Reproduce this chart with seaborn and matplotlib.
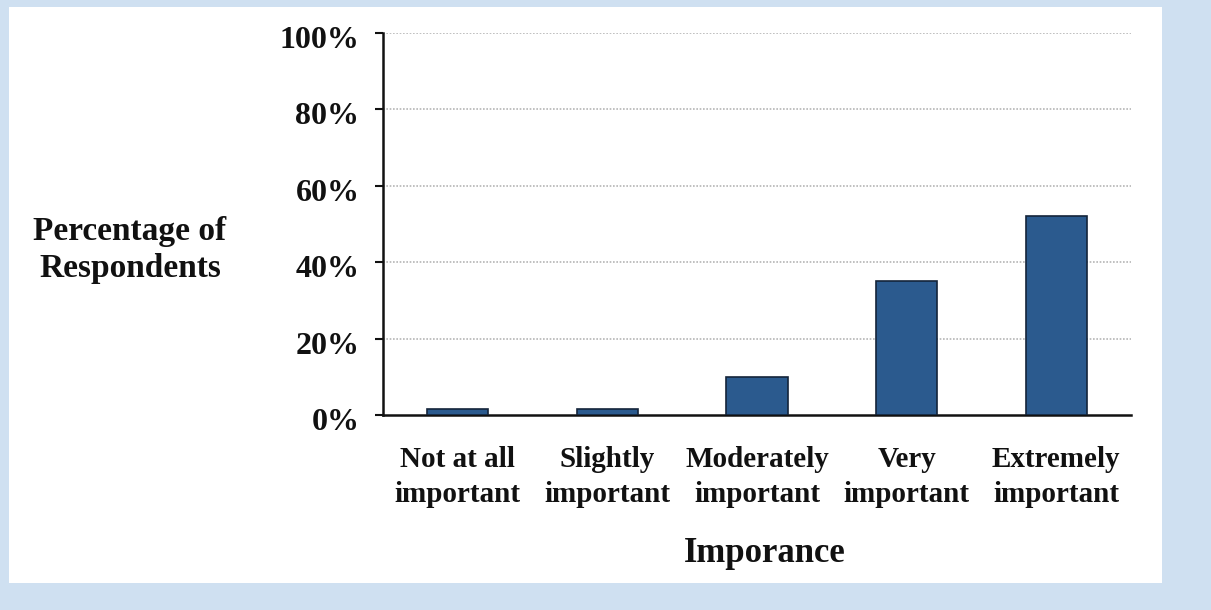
import matplotlib
matplotlib.use("Agg")
import matplotlib.pyplot as plt
import seaborn as sns
import pandas as pd
from matplotlib.patches import Rectangle
from matplotlib.ticker import FuncFormatter
import matplotlib.transforms as mtransforms

categories = ["Not at all\nimportant", "Slightly\nimportant", "Moderately\nimportant",
              "Very\nimportant", "Extremely\nimportant"]
percentages = [1.5, 1.5, 10, 35, 52]
y_ticks = [0, 20, 40, 60, 80, 100]

df = pd.DataFrame({"Importance": categories, "Percent": percentages})

sns.set_theme(style="white")
plt.rcParams["font.family"] = ["Liberation Serif", "DejaVu Serif"]
plt.rcParams["font.weight"] = "bold"
plt.rcParams["text.color"] = "#111111"
plt.rcParams["xtick.color"] = "#111111"
plt.rcParams["ytick.color"] = "#111111"

fig = plt.figure(figsize=(12.11, 6.10), dpi=100)
fig.patch.set_facecolor("#cfe0f1")
fig.patches.append(Rectangle((9 / 1211, 1 - 583 / 610), 1153 / 1211, 576 / 610,
                             transform=fig.transFigure, facecolor="white",
                             edgecolor="none", zorder=-5))

ax = fig.add_axes([383 / 1211, 1 - 415 / 610, 748 / 1211, 382 / 610])
ax.set_zorder(2)
ax.set_facecolor("none")

sns.barplot(data=df, x="Importance", y="Percent", ax=ax, color="#2b5a8e",
            width=0.41, edgecolor="#14243a", linewidth=1.2, saturation=1, zorder=3)

ax.set_ylim(0, 100)
ax.set_xlim(-0.5, len(categories) - 0.5)
ax.set_yticks(y_ticks)
ax.yaxis.set_major_formatter(FuncFormatter(lambda v, p: f"{v:.0f}%"))
for v in y_ticks[1:]:
    ax.axhline(v, color="#b5b5b5", linestyle=(0, (1, 1)), linewidth=1.2, zorder=1)

# ticks at category boundaries, labels at centres
ax.set_xticks([i - 0.5 for i in range(len(categories) + 1)])
ax.set_xticklabels([])
ax.set_xticks(range(len(categories)), minor=True)
ax.set_xticklabels(categories, minor=True, fontsize=21, fontweight="bold", linespacing=1.4)
ax.tick_params(axis="x", which="major", length=8, width=1.5, color="#111111", direction="out")
ax.tick_params(axis="x", which="minor", length=0, pad=22)
ax.tick_params(axis="y", length=6, width=1.5, color="#111111", direction="out",
               labelsize=23, pad=11, left=True)
shift = mtransforms.ScaledTranslation(0, -4 / 100, fig.dpi_scale_trans)
for lab in ax.get_yticklabels():
    lab.set_fontweight("bold")
    lab.set_transform(lab.get_transform() + shift)

for s in ["top", "right"]:
    ax.spines[s].set_visible(False)
for s in ["left", "bottom"]:
    ax.spines[s].set_color("#111111")
    ax.spines[s].set_linewidth(1.8)

ax.set_xlabel("")
ax.set_ylabel("")
fig.text(130 / 1211, 1 - 250 / 610, "Percentage of\nRespondents", ha="center", va="center",
         fontsize=24, fontweight="bold", linespacing=1.25)
fig.text(765 / 1211, 1 - 553 / 610, "Imporance", ha="center", va="center",
         fontsize=25, fontweight="bold")

fig.savefig("out.png", dpi=100, facecolor=fig.get_facecolor())
